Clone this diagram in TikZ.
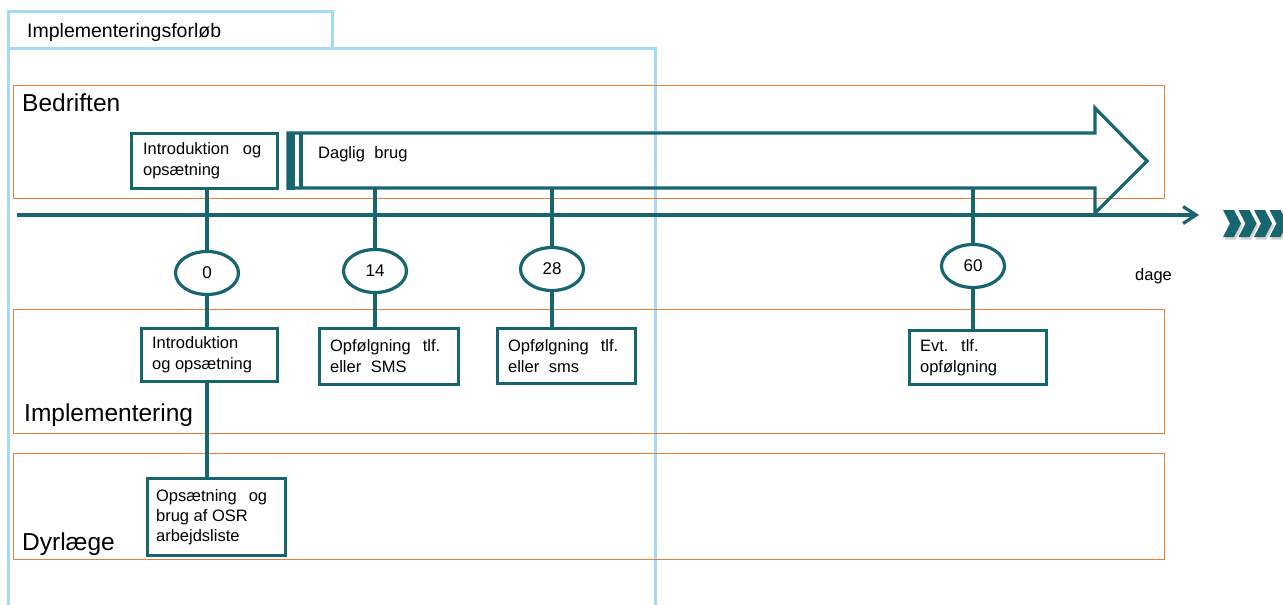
\documentclass[tikz,border=0pt]{standalone}
\usepackage{fontspec}
\setmainfont{Liberation Sans}
\usetikzlibrary{shapes.geometric,arrows.meta}
\definecolor{teal1}{HTML}{17656F}
\definecolor{orng}{HTML}{ED7D31}
\definecolor{lblue}{HTML}{A5DAF5}
\begin{document}
\begin{tikzpicture}[x=1pt,y=-1pt,
  tbox/.style={draw=teal1,line width=3.2pt,fill=white,inner sep=0pt},
  oval/.style={ellipse,draw=teal1,line width=3.2pt,fill=white,minimum width=63pt,minimum height=43pt,inner sep=0pt,font=\fontsize{17}{20}\selectfont},
  btxt/.style={anchor=west,align=left,inner sep=0pt,font=\fontsize{16.5}{21}\selectfont},
  lane/.style={draw=orng,line width=1pt},
  lanelbl/.style={anchor=base west,inner sep=0pt,font=\fontsize{24.5}{28}\selectfont},
  conn/.style={draw=teal1,line width=3.2pt},
  frame/.style={draw=lblue,line width=3pt}]
\useasboundingbox (0,0) rectangle (1283,605);
\clip (0,0) rectangle (1283,605);

% frame
\draw[frame] (8,606) -- (8,11) -- (332,11) -- (332,48);
\draw[frame] (8,48) -- (655,48) -- (655,606);
\node[anchor=base west,inner sep=0pt,font=\fontsize{19.5}{23}\selectfont] (title) at (27,37) {Implementeringsforløb};

% lanes
\draw[lane] (13,85) rectangle (1164,198);
\draw[lane] (13,309) rectangle (1164,433);
\draw[lane] (13,453) rectangle (1164,559);
\node[lanelbl] (lb1) at (22,111) {Bedriften};
\node[lanelbl] (lb2) at (24,421) {Implementering};
\node[lanelbl] (lb3) at (22,550) {Dyrlæge};

% big arrow
\fill[teal1] (287,131.5) rectangle (295,189.5);
\draw[teal1,line width=3.2pt,line join=miter] (288,133) -- (1095,133) -- (1095,108) -- (1147,161) -- (1095,213) -- (1095,188) -- (288,188) -- cycle;
\draw[teal1,line width=3.2pt] (301,133) -- (301,188);
\node[anchor=base west,inner sep=0pt,font=\fontsize{16.5}{21}\selectfont] (daglig) at (318,158) {Daglig\hspace{0.3em} brug};

% coordinates on arrow
\coordinate (c14) at (375,188);
\coordinate (c28) at (552,188);
\coordinate (c60) at (973,188);

% ellipses
\node[oval] (e0) at (207,273) {0};
\node[oval] (e14) at (375,271) {14};
\node[oval] (e28) at (552,269) {28};
\node[oval] (e60) at (973,266) {60};

% boxes
\node[tbox,minimum width=146pt,minimum height=55pt] (top) at (204.5,161) {};
\node[btxt] (ttop) at ([xshift=13pt]top.west) {Introduktion\hspace{0.55em} og\\opsætning};
\node[tbox,minimum width=136pt,minimum height=53pt] (b0) at (209.5,355) {};
\node[btxt] (tb0) at ([xshift=12pt]b0.west) {Introduktion\\og opsætning};
\node[tbox,minimum width=139pt,minimum height=56pt] (b14) at (389,356.5) {};
\node[btxt] (tb14) at ([xshift=12pt]b14.west) {Opfølgning\hspace{0.45em} tlf.\\eller\hspace{0.3em} SMS};
\node[tbox,minimum width=138pt,minimum height=55pt] (b28) at (566.5,356) {};
\node[btxt] (tb28) at ([xshift=12pt]b28.west) {Opfølgning\hspace{0.45em} tlf.\\eller\hspace{0.3em} sms};
\node[tbox,minimum width=137pt,minimum height=54pt] (b60) at (978,357.5) {};
\node[btxt] (tb60) at ([xshift=12pt]b60.west) {Evt.\hspace{0.4em} tlf.\\opfølgning};
\node[tbox,minimum width=138pt,minimum height=77pt] (d0) at (216.5,517) {};
\node[btxt,font=\fontsize{16.5}{20}\selectfont] (td0) at ([xshift=10pt]d0.west) {Opsætning\hspace{0.45em} og\\brug af OSR\\arbejdsliste};

% connectors
\draw[conn] (top.south -| e0) -- (e0.north);
\draw[conn] (e0.south) -- (b0.north -| e0);
\draw[conn] (b0.south -| e0) -- (d0.north -| e0);
\draw[conn] (c14) -- (e14.north);
\draw[conn] (e14.south) -- (b14.north -| e14);
\draw[conn] (c28) -- (e28.north);
\draw[conn] (e28.south) -- (b28.north -| e28);
\draw[conn] (c60) -- (e60.north);
\draw[conn] (e60.south) -- (b60.north -| e60);

% timeline
\coordinate (tl0) at (17,215);
\coordinate (tl1) at (1199,215);
\draw[conn,-{Straight Barb[length=13pt,width=17pt]}] (tl0) -- (tl1);

\node[anchor=base west,inner sep=0pt,font=\fontsize{16.5}{20}\selectfont] (dage) at (1135,280) {dage};

% chevrons
\foreach \x in {1223,1238.5,1254,1269.5,1285} {
  \fill[black!35,opacity=0.5] (\x+1.5,212.5) -- ++(11,0) -- ++(7,13.5) -- ++(-7,13.5) -- ++(-11,0) -- ++(7,-13.5) -- cycle;
  \fill[teal1] (\x,210) -- ++(11,0) -- ++(7,13.5) -- ++(-7,13.5) -- ++(-11,0) -- ++(7,-13.5) -- cycle;
}
\end{tikzpicture}
\end{document}
